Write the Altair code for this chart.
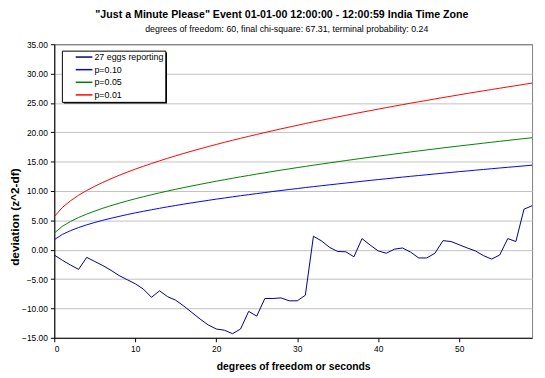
import altair as alt
import pandas as pd

seconds = list(range(60))

eggs = [-0.9, -1.8, -2.6, -3.35, -1.3, -2.0, -2.7, -3.5, -4.4, -5.1,
        -5.8, -6.7, -8.1, -7.0, -8.0, -8.6, -9.6, -10.7, -11.8, -12.8,
        -13.5, -13.7, -14.3, -13.5, -10.5, -11.3, -8.3, -8.3, -8.2, -8.7,
        -8.7, -7.75, 2.3, 1.5, 0.4, -0.3, -0.35, -1.2, 1.9, 0.8,
        -0.2, -0.6, 0.1, 0.3, -0.4, -1.4, -1.4, -0.6, 1.55, 1.4,
        0.85, 0.3, -0.2, -1.0, -1.6, -0.9, 1.9, 1.4, 6.9, 7.5]

p10 = [1.71, 2.61, 3.25, 3.78, 4.24, 4.65, 5.02, 5.36, 5.68, 5.99,
       6.28, 6.55, 6.81, 7.06, 7.31, 7.54, 7.77, 7.99, 8.20, 8.41,
       8.62, 8.81, 9.01, 9.20, 9.38, 9.56, 9.74, 9.92, 10.09, 10.26,
       10.42, 10.59, 10.75, 10.90, 11.06, 11.21, 11.36, 11.51, 11.66, 11.81,
       11.95, 12.09, 12.23, 12.37, 12.51, 12.64, 12.77, 12.91, 13.04, 13.17,
       13.30, 13.42, 13.55, 13.67, 13.80, 13.92, 14.04, 14.16, 14.28, 14.40]

p05 = [2.84, 3.99, 4.82, 5.49, 6.07, 6.59, 7.07, 7.51, 7.92, 8.31,
       8.68, 9.03, 9.36, 9.69, 10.00, 10.30, 10.59, 10.87, 11.14, 11.41,
       11.67, 11.92, 12.17, 12.42, 12.65, 12.89, 13.11, 13.34, 13.56, 13.77,
       13.99, 14.19, 14.40, 14.60, 14.80, 15.00, 15.19, 15.38, 15.57, 15.76,
       15.94, 16.12, 16.30, 16.48, 16.66, 16.83, 17.00, 17.17, 17.34, 17.51,
       17.67, 17.83, 17.99, 18.15, 18.31, 18.47, 18.62, 18.78, 18.93, 19.08]

p01 = [5.63, 7.21, 8.34, 9.28, 10.09, 10.81, 11.48, 12.09, 12.67, 13.21,
       13.73, 14.22, 14.69, 15.14, 15.58, 16.00, 16.41, 16.81, 17.19, 17.57,
       17.93, 18.29, 18.64, 18.98, 19.31, 19.64, 19.96, 20.28, 20.59, 20.89,
       21.19, 21.49, 21.78, 22.06, 22.34, 22.62, 22.89, 23.16, 23.43, 23.69,
       23.95, 24.21, 24.46, 24.71, 24.96, 25.20, 25.44, 25.68, 25.92, 26.15,
       26.39, 26.62, 26.84, 27.07, 27.29, 27.51, 27.73, 27.95, 28.17, 28.38]

series_names = ["27 eggs reporting", "p=0.10", "p=0.05", "p=0.01"]
series_colors = ["#000080", "#0000FF", "#008000", "#FF0000"]

title_text = '"Just a Minute Please" Event 01-01-00 12:00:00 - 12:00:59 India Time Zone'
subtitle_text = "degrees of freedom: 60,  final chi-square: 67.31,  terminal probability: 0.24"

x_ticks = [0, 10, 20, 30, 40, 50]
y_ticks = [-15, -10, -5, 0, 5, 10, 15, 20, 25, 30, 35]

rows = []
for name, vals in zip(series_names, [eggs, p10, p05, p01]):
    for s, v in zip(seconds, vals):
        rows.append({"second": s, "value": v, "series": name})
df = pd.DataFrame(rows)

FONT = "Liberation Sans"

lines = alt.Chart(df).mark_line(strokeWidth=1).encode(
    x=alt.X("second:Q",
            scale=alt.Scale(domain=[0, 59], nice=False, zero=False),
            axis=alt.Axis(values=x_ticks, title="degrees of freedom or seconds",
                          grid=False, format="d", labelPadding=3,
                          titleY=29, titleBaseline="middle")),
    y=alt.Y("value:Q",
            scale=alt.Scale(domain=[-15, 35], nice=False, zero=False),
            axis=alt.Axis(values=y_ticks, format=".2f", title="deviation (z^2-df)",
                          grid=True, labelPadding=3,
                          gridColor=alt.condition("datum.value == 35",
                                                  alt.value("#808080"),
                                                  alt.value("#C0C0C0")),
                          titleX=-40.5, titleY=175, titleBaseline="middle",
                          titleAlign="center", titleFontSize=12)),
    color=alt.Color("series:N",
                    scale=alt.Scale(domain=series_names, range=series_colors),
                    sort=series_names,
                    legend=alt.Legend(title=None, orient="none",
                                      legendX=7.7, legendY=6.5)),
)

# drop shadow behind the legend box
shadow = alt.Chart(pd.DataFrame({"k": [0]})).mark_rect(color="black").encode(
    x=alt.value(9.7), x2=alt.value(114.4), y=alt.value(8.5), y2=alt.value(60.2))

title_df = pd.DataFrame({"t": [title_text]})
sub_df = pd.DataFrame({"t": [subtitle_text]})

title_mark = alt.Chart(title_df).mark_text(
    font=FONT, fontSize=10.8, fontWeight="bold", color="black",
    align="center", baseline="middle").encode(
    text="t:N", x=alt.value(231), y=alt.value(-30))

sub_mark = alt.Chart(sub_df).mark_text(
    font=FONT, fontSize=8.95, color="black",
    align="center", baseline="middle").encode(
    text="t:N", x=alt.value(236), y=alt.value(-15.5))

chart = alt.layer(shadow, lines, title_mark, sub_mark).properties(
    width=485, height=298,
    autosize=alt.AutoSizeParams(type="none"),
    padding={"left": 47, "top": 34, "right": 5, "bottom": 38},
    background="white",
).configure_view(
    stroke="#808080", strokeWidth=1
).configure_axis(
    domainColor="black", tickColor="black", tickSize=4,
    labelFont=FONT, labelFontSize=8.5, labelColor="black",
    titleFont=FONT, titleFontSize=10.5, titleFontWeight="bold", titleColor="black",
).configure_legend(
    padding=1.5, strokeColor="black", fillColor="white", strokeWidth=1,
    symbolType="M-2,0H2", symbolSize=72, symbolStrokeWidth=1.5,
    symbolOffset=16, labelOffset=5.5, rowPadding=2.8,
    labelFont=FONT, labelFontSize=9, labelColor="black",
)

chart.save("out.html", embed_options={"renderer": "svg", "actions": False})
